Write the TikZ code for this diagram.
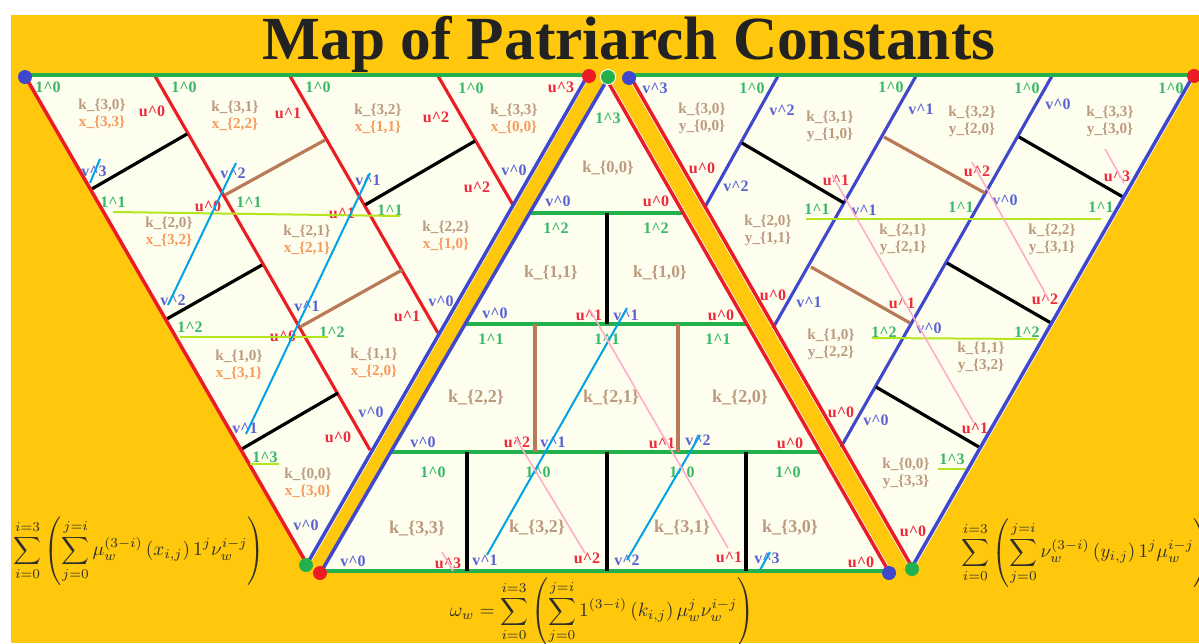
\documentclass[tikz,border=0pt]{standalone}
\usepackage[no-math]{fontspec}
\setmainfont{Liberation Serif}
\definecolor{bgy}{HTML}{FFC80D}
\definecolor{cream}{HTML}{FEFEEE}
\definecolor{edgered}{HTML}{EC1C24}
\definecolor{edgeblue}{HTML}{3F48CC}
\definecolor{edgegreen}{HTML}{22B14C}
\definecolor{barbrown}{HTML}{B97A57}
\definecolor{lime}{HTML}{B5E61D}
\definecolor{cyanl}{HTML}{00A2E8}
\definecolor{pinkl}{HTML}{FFAEC9}
\definecolor{tu}{HTML}{EE2A3E}
\definecolor{tv}{HTML}{5B63D3}
\definecolor{tg}{HTML}{38B868}
\definecolor{tk}{HTML}{BC9A80}
\definecolor{tx}{HTML}{F79A5E}
\definecolor{fm}{HTML}{2E2E2A}
\definecolor{titlec}{HTML}{222222}
\tikzset{
  lbl/.style={inner sep=0pt,font=\bfseries\fontsize{16}{18}\selectfont},
  ulab/.style={lbl,text=tu},
  vlab/.style={lbl,text=tv},
  glab/.style={lbl,text=tg},
  klab/.style={lbl,text=tk,font=\bfseries\fontsize{15.2}{17}\selectfont},
  xlab/.style={klab,text=tx},
  bigk/.style={lbl,text=tk},
  rededge/.style={draw=edgered,line width=3.5pt},
  blueedge/.style={draw=edgeblue,line width=3.5pt},
  greenedge/.style={draw=edgegreen,line width=3.3pt},
  halo/.style={draw=white,line width=5pt},
  blackbar/.style={draw=black,line width=3.2pt},
  brownbar/.style={draw=barbrown,line width=3.2pt},
  limeline/.style={draw=lime,line width=2pt},
  cyanline/.style={draw=cyanl,line width=2pt},
  pinkline/.style={draw=pinkl,line width=1.6pt},
  dot/.style={circle,minimum size=14pt,inner sep=0pt,draw=none},
  formula/.style={inner sep=0pt,text=fm,scale=1.93},
}
\begin{document}
\begin{tikzpicture}[x=1pt,y=-1pt]
\useasboundingbox (0,0) rectangle (1199,643);
\clip (0,0) rectangle (1199,643);
\fill[white] (0,0) rectangle (1199,643);
\fill[bgy] (11,15) rectangle (1199,643);

% vertices
\coordinate (LA) at (25,76);
\coordinate (LB) at (587,76);
\coordinate (LC) at (307,564);
\coordinate (CA) at (607,80);
\coordinate (CB) at (321,572);
\coordinate (CC) at (889,572);
\coordinate (RA) at (630,76);
\coordinate (RB) at (1193,76);
\coordinate (RC) at (912,567);

\fill[cream] (LA) -- (LB) -- (LC) -- cycle;
\fill[cream] (CA) -- (CB) -- (CC) -- cycle;
\fill[cream] (RA) -- (RB) -- (RC) -- cycle;

% halos
\draw[halo] (RB) -- (RC);
\draw[halo] (RA) -- (RC);
\draw[halo] (CA) -- (CC);
\draw[halo] (LB) -- (LC);

% inner cell rules
\foreach \a/\b/\c/\d in {155/76/370/450, 290/76/438/333, 438/76/513/205}
  \draw[draw=edgered,line width=3.1pt] (\a,\b) -- (\c,\d);
\foreach \a/\b/\c/\d in {1052/76/841/447, 916/76/773/328, 778/76/705/207}
  \draw[draw=edgeblue,line width=3.1pt] (\a,\b) -- (\c,\d);

% horizontal rules
\draw[greenedge] (25,75) -- (587,75);
\draw[greenedge] (630,75) -- (1193,75);
\draw[greenedge] (321,571) -- (889,571);
\draw[greenedge] (530,213) -- (684,213);
\draw[greenedge] (466,324) -- (748,324);
\draw[greenedge] (390,452) -- (821,452);

% bars
\foreach \a/\b/\c/\d in {90/190/187/134, 165/320/262/265, 240/450/338/393, 365/205/475/141,
    742/143/844/203, 1019/137/1123/197, 947/263/1051/323, 876/387/979/447,
    607/213/607/324, 467/452/467/571, 607/452/607/571, 746/452/746/571}
  \draw[blackbar] (\a,\b) -- (\c,\d);
\foreach \a/\b/\c/\d in {225/195/325/140, 300/327/402/270, 884/137/985/193, 811/267/910/323,
    535/324/535/452, 678/324/678/452}
  \draw[brownbar] (\a,\b) -- (\c,\d);

% triangle edges
\draw[rededge] (LA) -- (LC);
\draw[blueedge] (585,80) -- (LC);
\draw[blueedge] (CA) -- (CB);
\draw[rededge] (CA) -- (CC);
\draw[rededge] (RA) -- (RC);
\draw[blueedge] (RB) -- (RC);

% labels
\node[lbl,text=titlec,font=\bfseries\fontsize{61.3}{64}\selectfont,anchor=base] (title) at (629,59) {Map of Patriarch Constants};

\foreach \px/\py/\n [count=\i] in {152/111/0,288/113/1,436/117/2,561/87/3,208/206/0,342/213/1,477/187/2,283/336/0,407/316/1,338/437/0,
   656/201/0,589/315/1,721/315/0,517/442/2,662/443/1,790/443/0,448/563/3,587/558/2,729/557/1,861/562/0,
   702/168/0,773/295/0,836/180/1,977/171/2,1117/176/3,902/303/1,1045/299/2,841/412/0,975/428/1,913/531/0}
  \node[ulab] (u\i) at (\px,\py) {u\textasciicircum\n};

\foreach \px/\py/\n [count=\i] in {94/171/3,233/173/2,368/180/1,514/170/0,173/300/2,307/306/1,441/301/0,371/412/0,245/428/1,306/525/0,353/561/0,
   558/201/0,495/313/0,626/315/1,423/442/0,553/442/1,698/440/2,485/560/1,627/560/2,767/558/3,
   655/88/3,782/110/2,736/186/2,809/302/1,921/109/1,1058/104/0,864/210/1,1005/200/0,929/328/0,876/420/0}
  \node[vlab] (v\i) at (\px,\py) {v\textasciicircum\n};

\foreach \px/\py/\n [count=\i] in {48/87/0,184/87/0,318/87/0,471/88/0,113/202/1,249/202/1,390/210/1,190/327/2,332/332/2,265/457/3,
   608/118/3,556/228/2,656/228/2,491/339/1,607/339/1,718/339/1,433/472/0,538/472/0,682/472/0,788/472/0,
   752/88/0,891/87/0,1027/88/0,1171/88/0,817/209/1,961/207/1,1101/207/1,884/332/2,1027/332/2,952/459/3}
  \node[glab] (g\i) at (\px,\py) {1\textasciicircum\n};

% k + x pairs
\foreach \px/\py/\a/\b/\c/\d [count=\i] in {102/105/3/0/3/3,235/107/3/1/2/2,378/110/3/2/1/1,514/110/3/3/0/0,
   169/223/2/0/3/2,307/231/2/1/2/1,446/227/2/2/1/0,239/356/1/0/3/1,374/354/1/1/2/0,308/474/0/0/3/0}{
  \node[klab] (ka\i) at (\px,\py) {k\_\{\a,\b\}};
  \node[xlab] (xa\i) at (\px,{\py+17.5}) {x\_\{\c,\d\}};
}
% k + y pairs
\foreach \px/\py/\a/\b/\c/\d [count=\i] in {702/109/3/0/0/0,830/117/3/1/1/0,972/112/3/2/2/0,1110/112/3/3/3/0,
   768/221/2/0/1/1,903/230/2/1/2/1,1052/230/2/2/3/1,831/335/1/0/2/2,981/348/1/1/3/2,906/464/0/0/3/3}{
  \node[klab] (kb\i) at (\px,\py) {k\_\{\a,\b\}};
  \node[klab] (yb\i) at (\px,{\py+18}) {y\_\{\c,\d\}};
}
% big k
\foreach \px/\py/\a/\b/\fs [count=\i] in {608/168/0/0/16.5,551/273/1/1/17.3,660/273/1/0/17.3,476/398/2/2/18,611/398/2/1/18,740/398/2/0/18,
   417/529/3/3/18,537/528/3/2/18,682/528/3/1/18,790/528/3/0/18}
  \node[bigk,font=\bfseries\fontsize{\fs}{20}\selectfont] (kc\i) at (\px,\py) {k\_\{\a,\b\}};

% overlaid thin lines
\foreach \a/\b/\c/\d in {113/212/400/216, 180/337/328/337, 250/464/279/464, 806/219/1101/219, 872/338/1037/339, 938/469/966/469}
  \draw[limeline] (\a,\b) -- (\c,\d);
\foreach \a/\b/\c/\d in {90/183/100/159, 168/305/236/163, 246/434/370/173, 487/555/627/308, 627/560/700/435, 760/570/770/552}
  \draw[cyanline] (\a,\b) -- (\c,\d);
\foreach \a/\b/\c/\d in {590/310/728/548, 515/437/585/553, 442/552/453/571, 832/175/974/423, 972/162/1049/300, 1105/149/1124/183}
  \draw[pinkline] (\a,\b) -- (\c,\d);

% dots
\node[dot,fill=edgeblue] (d1) at (25,77) {};
\node[dot,fill=edgered] (d2) at (589,76) {};
\node[dot,fill=white,minimum size=16pt] (d3h) at (608,77) {};
\node[dot,fill=edgegreen] (d3) at (608,77) {};
\node[dot,fill=edgeblue] (d4) at (629,78) {};
\node[dot,fill=edgered] (d5) at (1194,76) {};
\node[dot,fill=edgegreen] (d6) at (306,565) {};
\node[dot,fill=edgered] (d7) at (320,573) {};
\node[dot,fill=edgeblue] (d8) at (889,573) {};
\node[dot,fill=edgegreen] (d9) at (912,569) {};

% formulas
\node[formula] (fl) at (139,551) {$\displaystyle\sum_{i=0}^{i=3}\left(\sum_{j=0}^{j=i}\mu_w^{(3-i)}\left(x_{i,j}\right)1^j\nu_w^{i-j}\right)$};
\node[formula] (fr) at (1086,553) {$\displaystyle\sum_{i=0}^{i=3}\left(\sum_{j=0}^{j=i}\nu_w^{(3-i)}\left(y_{i,j}\right)1^j\mu_w^{i-j}\right)$};
\node[formula] (fb) at (602,612) {$\displaystyle\omega_w=\sum_{i=0}^{i=3}\left(\sum_{j=0}^{j=i}1^{(3-i)}\left(k_{i,j}\right)\mu_w^j\nu_w^{i-j}\right)$};
\end{tikzpicture}
\end{document}
